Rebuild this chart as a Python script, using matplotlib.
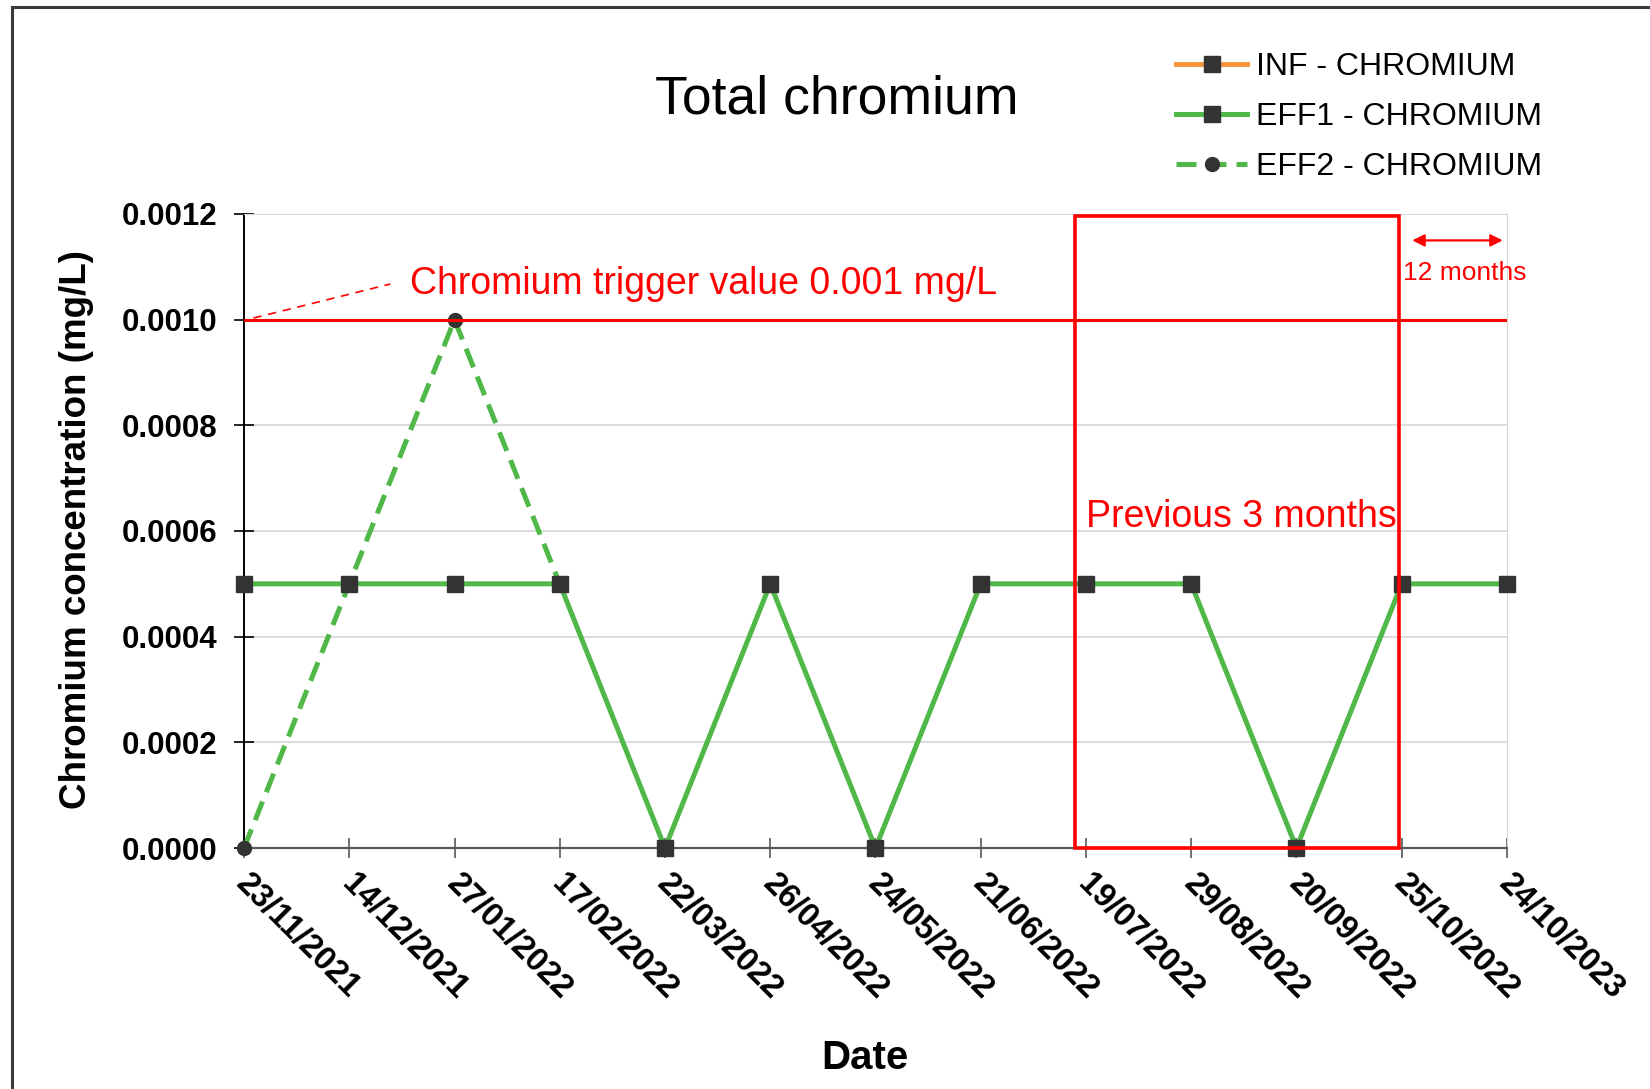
import numpy as np
import matplotlib
matplotlib.use("Agg")
import matplotlib.pyplot as plt
from matplotlib.patches import Rectangle
from matplotlib.transforms import ScaledTranslation

plt.rcParams['font.family'] = ['Liberation Sans', 'DejaVu Sans']

# data
dates = ["23/11/2021", "14/12/2021", "27/01/2022", "17/02/2022", "22/03/2022",
         "26/04/2022", "24/05/2022", "21/06/2022", "19/07/2022", "29/08/2022",
         "20/09/2022", "25/10/2022", "24/10/2023"]
inf_cr = [np.nan] * 13
eff1_cr = [0.0005, 0.0005, 0.0005, 0.0005, 0.0, 0.0005, 0.0, 0.0005,
           0.0005, 0.0005, 0.0, 0.0005, 0.0005]
eff2_cr = [0.0, 0.0005, 0.001, 0.0005] + [np.nan] * 9
trigger = 0.001
yticks = [0.0, 0.0002, 0.0004, 0.0006, 0.0008, 0.0010, 0.0012]

GREEN = "#50B848"
ORANGE = "#F7943A"
MARK = "#333333"
RED = "#FF0000"

fig = plt.figure(figsize=(16.5, 10.89), dpi=100)
ax = fig.add_axes([0.1479, 0.2213, 0.7654, 0.5822])

x = np.arange(len(dates))

l_inf, = ax.plot(x, inf_cr, color=ORANGE, lw=3.5, marker='s', ms=11,
                 mfc=MARK, mec=MARK, label="INF - CHROMIUM", clip_on=False)
l_eff2, = ax.plot(x, eff2_cr, color=GREEN, lw=3.6, ls=(0, (4, 2)), marker='o',
                  ms=10, mfc=MARK, mec=MARK, label="EFF2 - CHROMIUM",
                  clip_on=False, zorder=3)
l_eff1, = ax.plot(x, eff1_cr, color=GREEN, lw=3.6, marker='s', ms=11,
                  mfc=MARK, mec=MARK, label="EFF1 - CHROMIUM",
                  clip_on=False, zorder=4)

# trigger line and its label
ax.axhline(trigger, color=RED, lw=2.2, zorder=5)
ax.plot([0.09, 1.39], [0.001003, 0.0010675], color=RED, lw=1.2,
        ls=(0, (5, 4)), zorder=5)
ax.text(1.58, 0.0010675, "Chromium trigger value 0.001 mg/L", color=RED,
        fontsize=27, va='center', ha='left')

# previous 3 months box
ax.add_patch(Rectangle((7.9, 0), 3.07, 0.001196, fill=False, ec=RED,
                       lw=2.6, zorder=6, clip_on=False))
ax.text(8.0, 0.000608, "Previous 3 months", color=RED, fontsize=27,
        ha='left', va='baseline', zorder=6)

# 12 months arrow
ax.annotate("", xy=(11.96, 0.00115), xytext=(11.1, 0.00115),
            arrowprops=dict(arrowstyle='<|-|>', color=RED, lw=1.6,
                            mutation_scale=18, shrinkA=0, shrinkB=0))
ax.text(11.6, 0.001088, "12 months", color=RED, fontsize=19,
        ha='center', va='center')

ax.set_xlim(0, 12)
ax.set_ylim(0, 0.0012)
ax.set_yticks(yticks)
ax.set_yticklabels([f"{v:.4f}" for v in yticks], fontsize=22.5, fontweight='bold')
ax.set_xticks(x)
ax.set_xticklabels([])
# date labels placed by hand so they can sit a bit right of each tick
lab_trans = ax.get_xaxis_transform() + ScaledTranslation(0.08, -0.2, fig.dpi_scale_trans)
for i, d in zip(x, dates):
    ax.text(i, 0, d, transform=lab_trans, fontsize=23.5, fontweight='bold',
            rotation=-45, ha='left', va='top', rotation_mode='anchor',
            clip_on=False)
ax.tick_params(axis='y', direction='inout', length=14, width=1.2,
               color='black', pad=12)
ax.tick_params(axis='x', direction='inout', length=14, width=1.2,
               color='#595959', pad=9)

ax.grid(axis='y', color='#D9D9D9', lw=1.3)
ax.set_axisbelow(True)
ax.spines['left'].set_color('black')
ax.spines['left'].set_linewidth(1.4)
ax.spines['bottom'].set_color('#595959')
ax.spines['bottom'].set_linewidth(1.6)
ax.spines['right'].set_color('#D9D9D9')
ax.spines['top'].set_color('#D9D9D9')

ax.set_ylabel("Chromium concentration (mg/L)", fontsize=26.5, fontweight='bold')
ax.yaxis.set_label_coords(-0.1186, 0.503)

fig.text(0.507, 0.909, "Total chromium", fontsize=38.5, ha='center', va='center')
fig.text(0.524, 1 - 1058 / 1089, "Date", fontsize=29, fontweight='bold',
         ha='center', va='center')

fig.legend(handles=[l_inf, l_eff1, l_eff2], loc='upper left',
           bbox_to_anchor=(0.713, 0.952), frameon=False, fontsize=23,
           handlelength=2.2, handletextpad=0.3, labelspacing=0.62,
           borderpad=0, borderaxespad=0)

# outer frame (right and bottom edges fall outside the picture)
fig.add_artist(Rectangle((12 / 1650, -0.05), 1.2, 1 - 7 / 1089 + 0.05,
                         transform=fig.transFigure, fill=False,
                         ec='#3A3A3A', lw=2.2))

fig.savefig("out.png", dpi=100)
